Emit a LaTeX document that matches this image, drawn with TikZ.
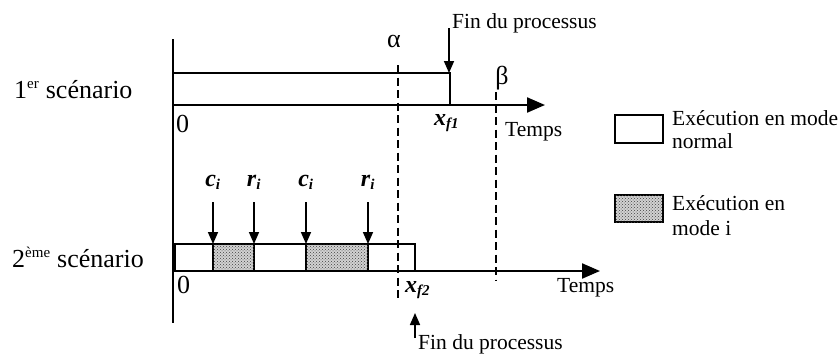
\documentclass[tikz,border=0pt]{standalone}
\usepackage{fontspec}
\setmainfont{Liberation Serif}
\usetikzlibrary{arrows.meta,patterns}
\begin{document}
\begin{tikzpicture}[x=1pt,y=-1pt,
  axis/.style={line width=2.2pt,-{Triangle[length=18pt,width=15pt]}},
  bar/.style={draw,line width=2.2pt,fill=white},
  shade/.style={draw,line width=2.2pt,fill=gray!35,postaction={pattern=crosshatch dots,pattern color=black!75}},
  dashline/.style={line width=1.6pt,dash pattern=on 8pt off 4.5pt},
  small/.style={font=\fontsize{21.5}{24}\selectfont,inner sep=0pt},
  big/.style={font=\fontsize{26}{30}\selectfont,inner sep=0pt},
  varlab/.style={font=\fontsize{24}{28}\selectfont\bfseries\itshape,inner sep=0pt},
  pointer/.style={line width=1.6pt,-{Triangle[length=12pt,width=10pt]}}]
\useasboundingbox (0,0) rectangle (839,356);
% vertical axis
\coordinate (vtop) at (173,39);
\coordinate (vbot) at (173,323);
\draw[line width=2pt] (vtop) -- (vbot);
% scenario 1
\coordinate (o1) at (173,105);
\coordinate (e1) at (545,105);
\draw[bar] (173,73) rectangle (450,105);
\draw[axis] (o1) -- (e1);
% scenario 2
\coordinate (o2) at (173,271);
\coordinate (e2) at (600,271);
\draw[bar] (175,244) rectangle (415,271);
\draw[shade] (213,244) rectangle (254,271);
\draw[shade] (306,244) rectangle (368,271);
\draw[axis] (o2) -- (e2);
% dashed lines
\coordinate (a1) at (398,65); \coordinate (a2) at (398,300);
\coordinate (b1) at (496,92); \coordinate (b2) at (496,280);
\draw[dashline] (a1) -- (a2);
\draw[dashline] (b1) -- (b2);
\node[big,anchor=base] (alpha) at (394,47) {α};
\node[big,anchor=center] (beta) at (502,78) {β};
% labels left
\node[big,anchor=base west] (s1) at (14,98) {1\textsuperscript{\fontsize{15}{15}\selectfont er} scénario};
\node[big,anchor=base west] (s2) at (12,267) {2\textsuperscript{\fontsize{15}{15}\selectfont ème} scénario};
\node[big,anchor=base west] (z1) at (176,132) {0};
\node[big,anchor=base west] (z2) at (177,293) {0};
% top end of process
\node[small,anchor=base west] (fin1) at (452,28) {Fin du processus};
\coordinate (f1a) at (449,28); \coordinate (f1b) at (449,73);
\draw[pointer] (f1a) -- (f1b);
\node[varlab,anchor=base west] (xf1) at (434,125) {x\textsubscript{\fontsize{15}{15}\selectfont f1}};
\node[small,anchor=base west] (t1) at (505,136) {Temps};
% bottom end of process
\node[varlab,anchor=base west] (xf2) at (405,292) {x\textsubscript{\fontsize{15}{15}\selectfont f2}};
\node[small,anchor=base west] (t2) at (557,292) {Temps};
\coordinate (f2a) at (415,338); \coordinate (f2b) at (415,313);
\draw[pointer] (f2a) -- (f2b);
\node[small,anchor=base west] (fin2) at (418,349) {Fin du processus};
% ci ri arrows
\foreach \x/\l [count=\k] in {213/c,254/r,306/c,368/r}{
  \node[varlab,anchor=base] (lab\k) at (\x,186) {\l\textsubscript{\fontsize{15}{15}\selectfont i}};
  \coordinate (p\k) at (\x,202);
  \coordinate (q\k) at (\x,244);
  \draw[pointer] (p\k) -- (q\k);
}
% legend
\draw[bar,line width=1.8pt] (615,115) rectangle (663,143);
\node[small,anchor=base west] (l1a) at (672,125) {Exécution en mode};
\node[small,anchor=base west] (l1b) at (672,148) {normal};
\draw[shade,line width=1.8pt] (615,195) rectangle (663,222);
\node[small,anchor=base west] (l2a) at (672,210) {Exécution en};
\node[small,anchor=base west] (l2b) at (672,235) {mode i};
\end{tikzpicture}
\end{document}
